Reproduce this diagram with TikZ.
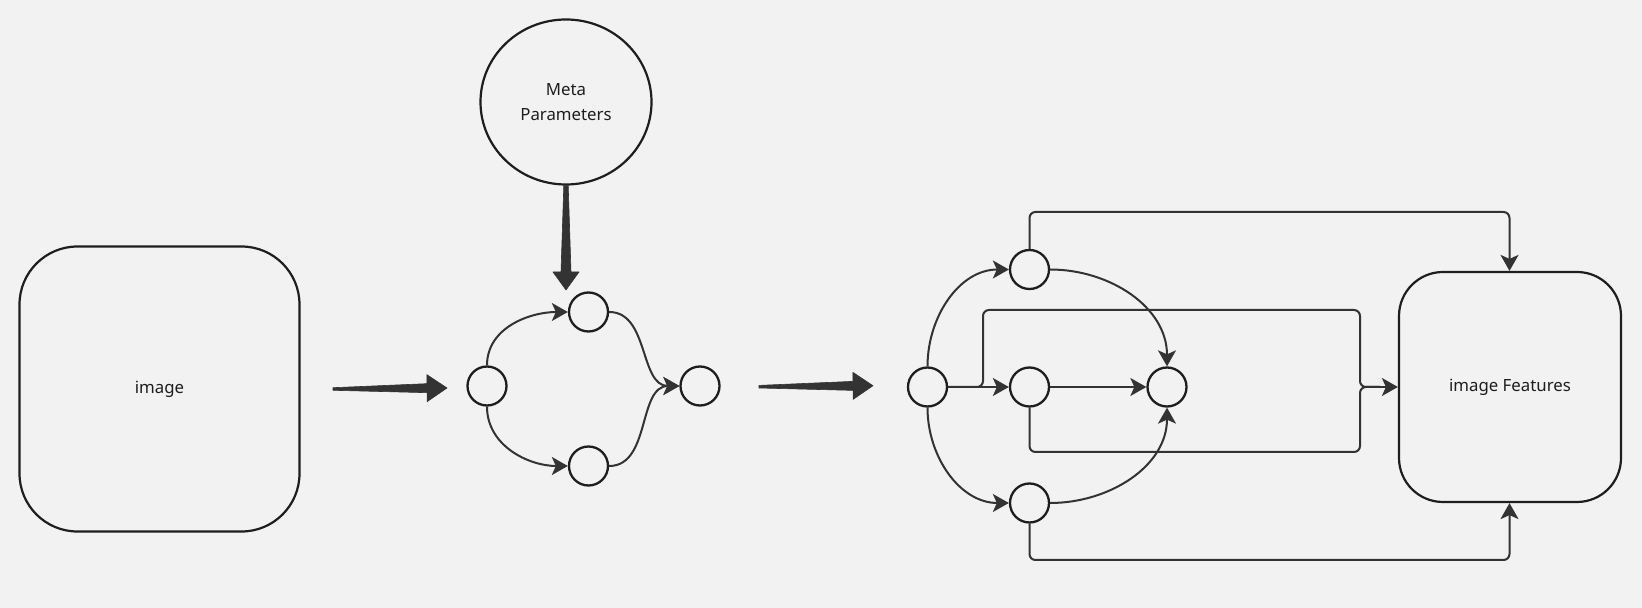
\documentclass[tikz,border=0pt]{standalone}
\usepackage{fontspec}
\setmainfont{Noto Sans}
\usetikzlibrary{calc,arrows.meta,shapes.geometric}
\definecolor{bg}{HTML}{F2F2F2}
\definecolor{ink}{HTML}{1E1E1E}
\definecolor{wire}{HTML}{333333}

% tapered block arrow from #1 (tail) to #2 (tip)
% #3 tail half width, #4 shaft half width at head, #5 head half width, #6 head length
\newcommand\fatarrow[6]{%
  \coordinate (hb) at ($(#2)!#6!(#1)$);
  \fill[wire, draw=wire, line width=0.6pt, line join=round]
    ($(#1)!#3!90:(#2)$) -- ($(hb)!#4!-90:(#1)$) -- ($(hb)!#5!-90:(#1)$) -- (#2)
    -- ($(hb)!#5!90:(#1)$) -- ($(hb)!#4!90:(#1)$) -- ($(#1)!#3!-90:(#2)$) -- cycle;
}

\begin{document}
\begin{tikzpicture}[x=1pt, y=1pt,
  every node/.style={text=ink, font=\fontsize{16.8}{25}\selectfont},
  block/.style={draw=ink, line width=2.2pt, rounded corners=#1, inner sep=0pt},
  unit/.style={circle, draw=ink, line width=2.3pt, minimum size=39pt, inner sep=0pt},
  link/.style={draw=wire, line width=2pt, -{Stealth[length=16pt, width=18pt, inset=4pt]}},
  route/.style={link, rounded corners=6pt},
  wireonly/.style={draw=wire, line width=2pt, rounded corners=6pt}]

\fill[bg] (0,0) rectangle (1642,608);
\useasboundingbox (0,0) rectangle (1642,608);

% input and output blocks
\node[block=58pt, minimum width=280pt, minimum height=285pt] (img) at (159.5,219) {image};
\node[block=44pt, minimum width=222pt, minimum height=230pt] (feat) at (1510,221) {image Features};
\node[ellipse, draw=ink, line width=2.2pt, minimum width=171pt, minimum height=165pt,
      inner sep=0pt, align=center] (meta) at (566,506) {Meta\\Parameters};

% small network
\node[unit] (l1) at (487,222) {};
\node[unit] (t1) at (588.5,296) {};
\node[unit] (b1) at (588.5,142) {};
\node[unit] (r1) at (700,222) {};

% feature network
\node[unit] (l2) at (927.5,221) {};
\node[unit] (t2) at (1029.5,338.5) {};
\node[unit] (m2) at (1029.5,221) {};
\node[unit] (b2) at (1029.5,105) {};
\node[unit] (r2) at (1167,221) {};

% block arrows between stages
\coordinate (a1s) at (333,219);
\coordinate (a1e) at (447,220);
\fatarrow{a1s}{a1e}{1.3pt}{4.5pt}{13.5pt}{20pt}
\coordinate (a2s) at (759,221.3);
\coordinate (a2e) at (873,222.3);
\fatarrow{a2s}{a2e}{1.3pt}{4.5pt}{13.5pt}{20pt}
\coordinate (a3s) at (meta.south);
\coordinate (a3e) at (566,318);
\fatarrow{a3s}{a3e}{2.2pt}{5pt}{13pt}{18pt}

% small network edges
\draw[link] (l1.north) to[out=90, in=180] (t1.west);
\draw[link] (l1.south) to[out=-90, in=180] (b1.west);
\draw[link] (t1.east) to[out=0, in=180] (r1.west);
\draw[link] (b1.east) to[out=0, in=180] (r1.west);

% feature network edges
\draw[link] (l2.north) to[out=90, in=180] (t2.west);
\draw[link] (l2.south) to[out=-90, in=180] (b2.west);
\draw[link] (t2.east) to[out=0, in=90] (r2.north);
\draw[link] (b2.east) to[out=0, in=-90] (r2.south);
\draw[link] (l2.east) -- (m2.west);
\draw[link] (m2.east) -- (r2.west);

% skip routes into the feature block
\draw[route] (t2.north) -- (1029.5,396) -- (1509.5,396) -- (feat.north -| 1509.5,0);
\draw[route] (b2.south) -- (1029.5,48) -- (1509.5,48) -- (feat.south -| 1509.5,0);
\draw[wireonly] (l2.east) -- (983,221) -- (983,298) -- (1360,298) -- (1360,221) -- (1380,221);
\draw[wireonly] (m2.south) -- (1029.5,156) -- (1360,156) -- (1360,221) -- (1380,221);
\draw[link] (1370,221) -- (feat.west);

\end{tikzpicture}
\end{document}
